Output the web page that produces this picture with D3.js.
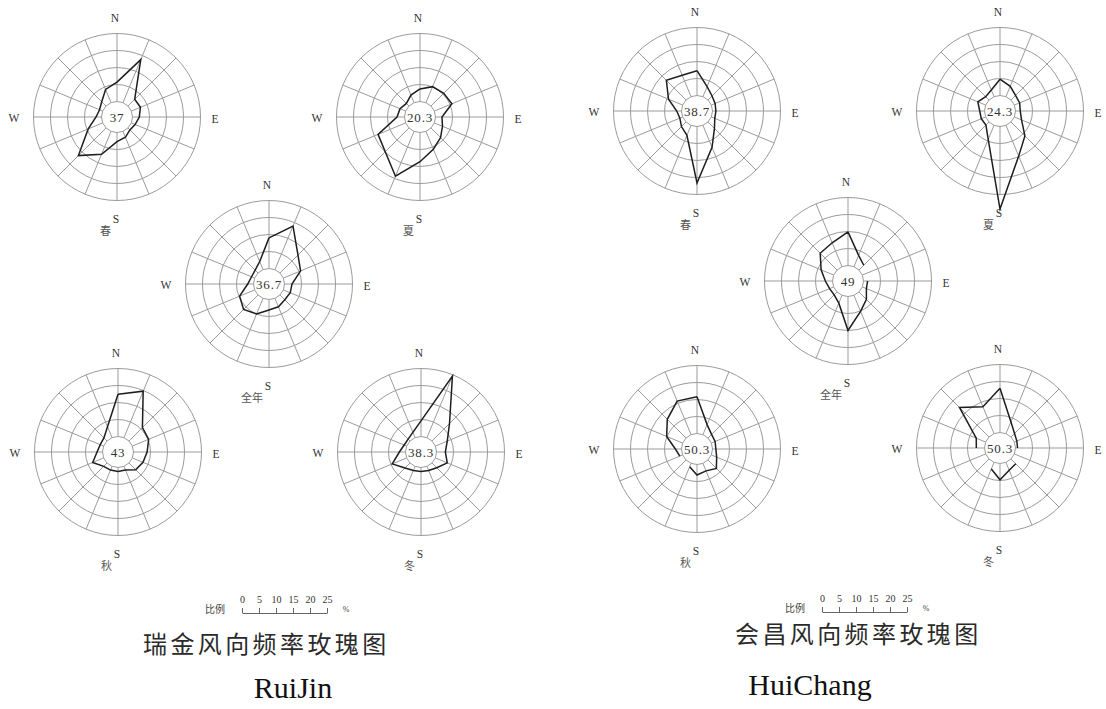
<!DOCTYPE html>
<html>
<head>
<meta charset="utf-8">
<script src="https://cdn.jsdelivr.net/npm/d3@7"></script>
<style>
  body { margin: 0; background: #fff; }
  svg { display: block; }
</style>
</head>
<body>
<svg id="chart" width="1106" height="709"></svg>
<script>
// 16 compass points, clockwise from north
const directions = ["N","NNE","NE","ENE","E","ESE","SE","SSE","S","SSW","SW","WSW","W","WNW","NW","NNW"];
const seasons = ["春", "夏", "全年", "秋", "冬"];

// Wind direction frequency (%) per compass point; 0 = no wind from that direction
const rjSpring = [5.7, 13.7, 2.8, 2.9, 2.0, 1.2, 0.8, 1.9, 2.7, 7.3, 11.5, 4.6, 1.6, 1.0, 1.8, 4.2];
const rjSummer = [3.7, 5.1, 5.3, 5.6, 1.9, 2.6, 4.0, 5.7, 8.6, 14.3, 9.9, 8.8, 2.2, 1.8, 1.1, 2.4];
const rjAnnual = [9.0, 13.9, 7.5, 5.5, 2.2, 2.2, 2.0, 2.7, 3.1, 5.0, 6.0, 4.8, 1.7, 1.0, 1.2, 2.6];
const rjAutumn = [12.4, 14.8, 5.6, 5.2, 4.0, 3.4, 2.8, 1.2, 1.2, 1.2, 1.4, 3.5, 1.6, 1.1, 1.3, 3.5];
const rjWinter = [4.6, 19.6, 7.3, 3.8, 2.6, 3.8, 2.0, 1.3, 1.2, 1.3, 2.1, 4.6, 1.8, 0.8, 0.8, 1.7];
const rjCalm = [37, 20.3, 36.7, 43, 38.3];

const hcSpring = [7.3, 3.2, 1.7, 1.2, 1.0, 1.1, 2.7, 7.0, 16.6, 3.2, 1.9, 0.9, 1.4, 4.5, 8.2, 6.8];
const hcSummer = [4.8, 3.3, 1.9, 1.7, 1.4, 2.3, 5.8, 9.8, 24.3, 4.5, 1.3, 1.4, 1.4, 2.5, 1.4, 2.1];
const hcAnnual = [9.9, 3.6, 2.0, 0, 1.2, 1.3, 3.1, 5.1, 10.0, 2.5, 1.2, 1.3, 2.1, 4.0, 7.0, 7.6];
const hcAutumn = [10.8, 3.2, 1.5, 1.2, 1.0, 1.7, 3.5, 2.4, 3.1, 1.1, 0, 0.9, 1.8, 5.1, 7.8, 10.7];
const hcWinter = [13.0, 3.8, 1.5, 0.8, 0.6, 0, 2.0, 2.5, 4.8, 2.1, 0, 0, 2.4, 3.0, 12.3, 8.6];
const hcCalm = [38.7, 24.3, 49, 50.3, 50.3];

const ringTicks = [0, 5, 10, 15, 20];
const scaleTicks = [0, 5, 10, 15, 20, 25];
const stationTitles = ["瑞金风向频率玫瑰图", "会昌风向频率玫瑰图"];
const stationNames = ["RuiJin", "HuiChang"];

// ---- layout ----
const roseCenters = [
  [[117, 117], [420, 117], [269, 284], [118, 452], [421, 452]],
  [[697, 111], [1000, 111], [848, 281], [697, 449], [1000, 448]]
];
const stationSeries = [
  [rjSpring, rjSummer, rjAnnual, rjAutumn, rjWinter],
  [hcSpring, hcSummer, hcAnnual, hcAutumn, hcWinter]
];
const stationCalm = [rjCalm, hcCalm];
const scaleBars = [{x: 242, y: 613}, {x: 822, y: 612}];
const titlePos = [{x: 143, y: 653}, {x: 735, y: 643}];
const namePos = [{x: 293, y: 698}, {x: 810, y: 695}];

const svg = d3.select("#chart");
const gridColor = "#9b9b9b";
const inkColor = "#1e1e1e";
const labelFont = "'Liberation Serif', 'DejaVu Serif', serif";
const cjkFont = "'Noto Sans CJK SC', 'Noto Sans', sans-serif";

// radius grows outward from the calm circle: 5 % per ring
const r = d3.scaleLinear().domain([0, 20]).range([15.5, 83.5]);
const angle = d3.scaleLinear().domain([0, directions.length]).range([0, 2 * Math.PI]);

const radialLine = d3.lineRadial()
  .angle(d => angle(d.i))
  .radius(d => r(d.v))
  .defined(d => d.v > 0);

function drawRose(g, values, calm, season) {
  // concentric rings
  g.selectAll("circle.ring")
    .data(ringTicks.slice(1))
    .join("circle")
    .attr("class", "ring")
    .attr("r", d => r(d))
    .attr("fill", "none")
    .attr("stroke", gridColor)
    .attr("stroke-width", 1);

  // 16 spokes
  g.selectAll("line.spoke")
    .data(directions)
    .join("line")
    .attr("class", "spoke")
    .attr("x1", (d, i) => r(0) * Math.sin(angle(i)))
    .attr("y1", (d, i) => -r(0) * Math.cos(angle(i)))
    .attr("x2", (d, i) => r(20) * Math.sin(angle(i)))
    .attr("y2", (d, i) => -r(20) * Math.cos(angle(i)))
    .attr("stroke", gridColor)
    .attr("stroke-width", 1);

  // frequency outline (closed back to N)
  const pts = values.map((v, i) => ({i, v}));
  pts.push({i: directions.length, v: values[0]});
  g.append("path")
    .attr("d", radialLine(pts))
    .attr("fill", "none")
    .attr("stroke", inkColor)
    .attr("stroke-width", 1.5)
    .attr("stroke-linejoin", "miter");

  // calm circle with calm frequency
  g.append("circle")
    .attr("r", r(0))
    .attr("fill", "#fff")
    .attr("stroke", gridColor)
    .attr("stroke-width", 1);
  g.append("text")
    .attr("y", 4.5)
    .attr("text-anchor", "middle")
    .attr("font-family", labelFont)
    .attr("font-size", 13)
    .attr("letter-spacing", 0.8)
    .attr("fill", "#333")
    .text(calm);

  // compass labels
  const compass = [
    {t: "N", x: -2, y: -95},
    {t: "E", x: 98, y: 6},
    {t: "W", x: -103, y: 5},
    {t: "S", x: -1, y: 106}
  ];
  g.selectAll("text.compass")
    .data(compass)
    .join("text")
    .attr("class", "compass")
    .attr("x", d => d.x)
    .attr("y", d => d.y)
    .attr("text-anchor", "middle")
    .attr("font-family", labelFont)
    .attr("font-size", 11.5)
    .attr("fill", "#333")
    .text(d => d.t);

  g.append("text")
    .attr("x", -6)
    .attr("y", 118)
    .attr("text-anchor", "end")
    .attr("font-family", cjkFont)
    .attr("font-size", 11)
    .attr("fill", "#555")
    .text(season);
}

stationSeries.forEach((series, s) => {
  series.forEach((values, k) => {
    const [cx, cy] = roseCenters[s][k];
    const g = svg.append("g").attr("transform", `translate(${cx},${cy})`);
    drawRose(g, values, stationCalm[s][k], seasons[k]);
  });

  // scale bar
  const bar = scaleBars[s];
  const sx = d3.scaleLinear().domain([0, 25]).range([0, 85]);
  const axis = svg.append("g")
    .attr("transform", `translate(${bar.x},${bar.y})`)
    .call(d3.axisTop(sx).tickValues(scaleTicks).tickSize(5).tickSizeOuter(0).tickPadding(5));
  axis.selectAll("path, line").attr("stroke", "#555").attr("stroke-width", 0.9);
  axis.selectAll("text")
    .attr("font-family", labelFont)
    .attr("font-size", 10)
    .attr("fill", "#333");
  svg.append("text")
    .attr("x", bar.x - 17)
    .attr("y", bar.y)
    .attr("text-anchor", "end")
    .attr("font-family", cjkFont)
    .attr("font-size", 10)
    .attr("fill", "#444")
    .text("比例");
  svg.append("text")
    .attr("x", bar.x + 104)
    .attr("y", bar.y - 1)
    .attr("text-anchor", "middle")
    .attr("font-family", labelFont)
    .attr("font-size", 8)
    .attr("fill", "#444")
    .text("%");

  // titles
  svg.append("text")
    .attr("x", titlePos[s].x)
    .attr("y", titlePos[s].y)
    .attr("font-family", cjkFont)
    .attr("font-size", 24)
    .attr("font-weight", 400)
    .attr("letter-spacing", 3.4)
    .attr("fill", "#2a2a2a")
    .text(stationTitles[s]);
  svg.append("text")
    .attr("x", namePos[s].x)
    .attr("y", namePos[s].y)
    .attr("text-anchor", "middle")
    .attr("font-family", labelFont)
    .attr("font-size", 30)
    .attr("fill", "#111")
    .text(stationNames[s]);
});
</script>
</body>
</html>
